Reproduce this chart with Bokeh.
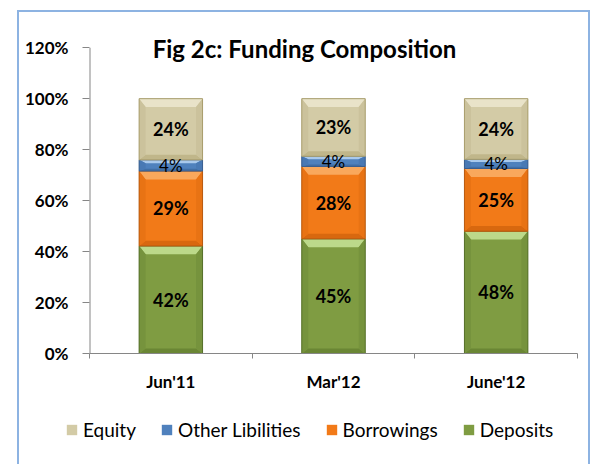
from bokeh.plotting import figure
from bokeh.layouts import column
from bokeh.models import (Range1d, FixedTicker, Legend, LegendItem, Label,
                          ColumnDataSource)
from bokeh.core.properties import value
from bokeh.embed import file_html
from bokeh.resources import INLINE

# ---------------- data ----------------
categories = ["Jun'11", "Mar'12", "June'12"]
deposits = [42.2, 45.0, 48.0]
borrowings = [29.4, 28.4, 24.6]
other_liab = [4.4, 4.0, 3.6]
equity = [24.0, 22.6, 23.8]
series_names = ["Deposits", "Borrowings", "Other Libilities", "Equity"]
legend_order = ["Equity", "Other Libilities", "Borrowings", "Deposits"]
y_ticks = [0, 20, 40, 60, 80, 100, 120]
title_text = "Fig 2c: Funding Composition"

# ---------------- style ----------------
FONT = "Lato"
styles = {
    "Deposits":        dict(base="#7f9c42", top="#bcd98a", bot="#6a8634", side="#76933d", line="#56702a"),
    "Borrowings":      dict(base="#f27a18", top="#f9a85c", bot="#d8680f", side="#e87314", line="#b85a10"),
    "Other Libilities": dict(base="#4f81bd", top="#a9c9ec", bot="#416fa6", side="#4979b4", line="#3a5f8f"),
    "Equity":          dict(base="#d3cba6", top="#e9e3c9", bot="#c0b68a", side="#cbc29c", line="#a89d6c"),
}
BAR_W = 0.39
BC = "#8db3e2"
AX = "#868686"

p = figure(width=569, height=391, output_backend="svg", toolbar_location=None,
           x_range=Range1d(0, len(categories)), y_range=Range1d(0, 124),
           min_border_left=70, min_border_right=11, min_border_top=25,
           min_border_bottom=50)
p.frame_align = False
p.outline_line_color = None
p.grid.visible = False
p.background_fill_color = "white"
p.border_fill_color = "white"

series_vals = [deposits, borrowings, other_liab, equity]
n = len(categories)
centers = [i + 0.5 for i in range(n)]
bottoms = [0.0] * n
label_rows = []
for name, vals in zip(series_names, series_vals):
    st = styles[name]
    x0 = [c - BAR_W / 2 for c in centers]
    x1 = [c + BAR_W / 2 for c in centers]
    y0 = list(bottoms)
    y1 = [b + v for b, v in zip(bottoms, vals)]
    dx = 0.04
    dys = [min(3.3, v * 0.3) for v in vals]
    dyb = [min(2.0, v * 0.2) for v in vals]
    p.quad(left=x0, right=x1, bottom=y0, top=y1, fill_color=st["base"], line_color=None)
    top_xs = [[a, b, b - dx, a + dx] for a, b in zip(x0, x1)]
    top_ys = [[t, t, t - d, t - d] for t, d in zip(y1, dys)]
    p.patches(top_xs, top_ys, fill_color=st["top"], line_color=None)
    bot_xs = [[a, b, b - dx, a + dx] for a, b in zip(x0, x1)]
    bot_ys = [[s, s, s + d, s + d] for s, d in zip(y0, dyb)]
    p.patches(bot_xs, bot_ys, fill_color=st["bot"], line_color=None)
    l_xs = [[a, a, a + dx, a + dx] for a in x0]
    l_ys = [[s, t, t - d1, s + d2] for s, t, d1, d2 in zip(y0, y1, dys, dyb)]
    p.patches(l_xs, l_ys, fill_color=st["side"], line_color=None)
    r_xs = [[b, b, b - dx, b - dx] for b in x1]
    p.patches(r_xs, l_ys, fill_color=st["side"], line_color=None)
    p.quad(left=x0, right=x1, bottom=y0, top=y1, fill_color=None, line_color=st["line"], line_width=1)
    mids = [(a + b) / 2 for a, b in zip(y0, y1)]
    label_rows.append((name, mids, [f"{round(v)}%" for v in vals]))
    bottoms = y1

for name, mids, texts in label_rows:
    src = ColumnDataSource(dict(x=centers, y=mids, t=texts))
    if name == "Other Libilities":
        p.text(x="x", y="y", text="t", source=src, text_font=value(FONT),
               text_font_size="17px", text_align="center", text_baseline="middle",
               text_color="black")
    else:
        p.text(x="x", y="y", text="t", source=src, text_font=value(FONT),
               text_font_style="bold", text_font_size="18px", text_align="center",
               text_baseline="middle", text_color="black")

# y axis line only up to the top tick
p.segment(x0=[0], y0=[y_ticks[0]], x1=[0], y1=[y_ticks[-1]], line_color=AX, line_width=2)

# ---------------- axes ----------------
p.yaxis.ticker = FixedTicker(ticks=y_ticks)
p.yaxis.major_label_overrides = {t: f"{t}%" for t in y_ticks}
p.yaxis.major_tick_out = 7
p.yaxis.major_tick_in = 0
p.yaxis.minor_tick_line_color = None
p.yaxis.major_label_standoff = 14
p.yaxis.axis_line_color = None
p.yaxis.major_tick_line_color = AX
p.yaxis.major_label_text_font = FONT
p.yaxis.major_label_text_font_style = "bold"
p.yaxis.major_label_text_font_size = "17px"
p.yaxis.major_label_text_color = "black"

p.xaxis.ticker = FixedTicker(ticks=centers, minor_ticks=list(range(n + 1)))
p.xaxis.major_label_overrides = {c: cat for c, cat in zip(centers, categories)}
p.xaxis.major_tick_out = 0
p.xaxis.major_tick_in = 0
p.xaxis.major_tick_line_color = None
p.xaxis.minor_tick_out = 5
p.xaxis.minor_tick_in = 0
p.xaxis.minor_tick_line_color = AX
p.xaxis.axis_line_color = AX
p.xaxis.major_label_standoff = 12
p.xaxis.major_label_text_font = FONT
p.xaxis.major_label_text_font_style = "bold"
p.xaxis.major_label_text_font_size = "17px"
p.xaxis.major_label_text_color = "black"

# ---------------- title ----------------
p.add_layout(Label(x=215, y=305, x_units="screen", y_units="screen", text=title_text,
                   text_font=FONT, text_font_style="bold", text_font_size="24px",
                   text_align="center", text_baseline="middle", text_color="black"))

# ---------------- legend (own strip) ----------------
q = figure(width=569, height=61, output_backend="svg", toolbar_location=None,
           x_range=Range1d(0, 1), y_range=Range1d(0, 1),
           min_border=0, x_axis_location=None, y_axis_location=None)
q.frame_align = False
q.outline_line_color = None
q.grid.visible = False
q.background_fill_color = "white"
q.border_fill_color = "white"
items = []
for nm in legend_order:
    st = styles[nm]
    # zero-size swatch carrier: only its style is used by the legend
    r = q.quad(left=[0], right=[0], bottom=[0], top=[0], fill_color=st["base"],
               line_color=st["line"], line_alpha=0)
    items.append(LegendItem(label=nm, renderers=[r]))
legend = Legend(items=items, orientation="horizontal", location=(46, 23),
                glyph_width=13, glyph_height=13, label_standoff=5, spacing=24,
                padding=0, margin=0, border_line_color=None, background_fill_alpha=0,
                label_text_font=FONT, label_text_font_size="19px", label_text_color="black")
q.add_layout(legend, "center")

layout = column(p, q, spacing=0)
layout.margin = (12, 0, 0, 19)
layout.styles = {"box-shadow": f"-2px 0 0 0 {BC}, 2px 0 0 0 {BC}, 0 -2px 0 0 {BC}, -2px -2px 0 0 {BC}, 2px -2px 0 0 {BC}"}

open("out.html", "w").write(file_html(layout, INLINE))
